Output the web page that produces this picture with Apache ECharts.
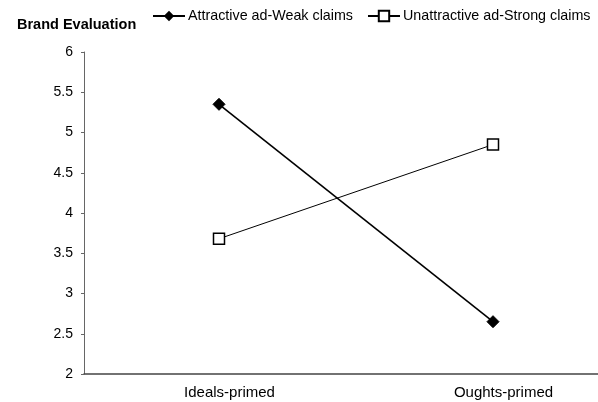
<!DOCTYPE html>
<html><head><meta charset="utf-8">
<script src="https://cdn.jsdelivr.net/npm/echarts@6/dist/echarts.min.js"></script>
<style>html,body{margin:0;padding:0;background:#fff}#c{width:598px;height:402px}</style>
</head><body><div id="c"></div>
<script>
const categories = ['Ideals-primed', 'Oughts-primed'];
const attractiveWeak = [5.35, 2.65];
const unattractiveStrong = [3.68, 4.85];
const seriesNames = ['Attractive ad-Weak claims', 'Unattractive ad-Strong claims'];
const yTitle = 'Brand Evaluation';

const font = 'Liberation Sans, Arial, sans-serif';
const catIdx = categories.map((c, i) => i);
const toPts = vals => vals.map((v, i) => [catIdx[i], v]);

const chart = echarts.init(document.getElementById('c'));
chart.setOption({
  animation: false,
  backgroundColor: '#fff',
  textStyle: { fontFamily: font, color: '#000' },
  title: { text: yTitle, left: 12, top: 12, textStyle: { fontFamily: font, fontSize: 14.5, fontWeight: 'bold', color: '#000' } },
  legend: {
    left: 147, top: 4, width: 451, itemGap: 14, itemWidth: 32, itemHeight: 13,
    textStyle: { fontFamily: font, fontSize: 14.3, color: '#000', padding: [0, 0, 0, -2] },
    data: seriesNames
  },
  grid: { left: 84, right: 0, top: 52, bottom: 28, containLabel: false },
  xAxis: {
    type: 'value', min: -0.4927, max: 1.3832,
    axisLine: { show: true, onZero: false, lineStyle: { color: '#444', width: 1.5 } },
    axisTick: { show: false },
    splitLine: { show: false },
    axisLabel: {
      customValues: catIdx,
      formatter: v => categories[Math.round(v)],
      fontFamily: font, fontSize: 15, color: '#000', margin: 11,
      padding: [0, 0, 0, 21]
    }
  },
  yAxis: {
    type: 'value', min: 2, max: 6, interval: 0.5,
    axisLine: { show: true, onZero: false, lineStyle: { color: '#666', width: 1 } },
    axisTick: { show: true, length: 3, lineStyle: { color: '#666' } },
    splitLine: { show: false },
    axisLabel: { fontFamily: font, fontSize: 14, color: '#000', margin: 11 }
  },
  series: [
    {
      name: seriesNames[0], type: 'line', data: toPts(attractiveWeak),
      symbol: 'diamond', symbolSize: 12,
      lineStyle: { color: '#000', width: 1.6 },
      itemStyle: { color: '#000', borderColor: '#000' }
    },
    {
      name: seriesNames[1], type: 'line', data: toPts(unattractiveStrong),
      symbol: 'rect', symbolSize: 11,
      lineStyle: { color: '#000', width: 1 },
      itemStyle: { color: '#fff', borderColor: '#000', borderWidth: 1.5 }
    }
  ]
});
</script></body></html>
